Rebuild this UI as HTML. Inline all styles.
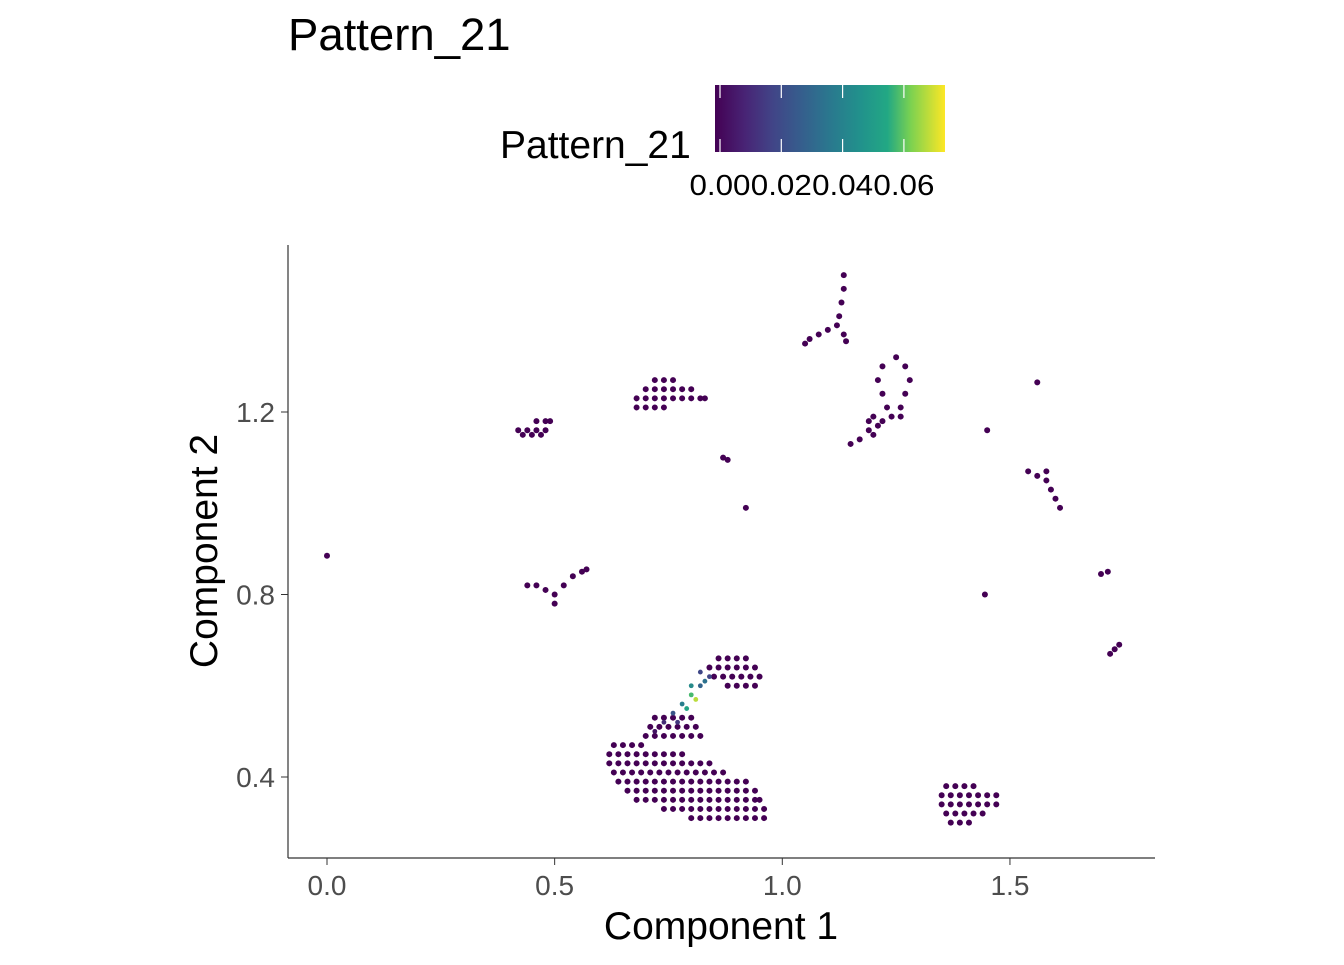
<!DOCTYPE html>
<html><head><meta charset="utf-8"><style>
body{margin:0;background:#fff}
svg{font-family:"Liberation Sans",Arial,sans-serif}
</style></head><body>
<svg id="chart" width="1344" height="960" xmlns="http://www.w3.org/2000/svg">
<defs><linearGradient id="vir" x1="0" x2="1" y1="0" y2="0">
<stop offset="0" stop-color="#440154"/><stop offset="0.13" stop-color="#482475"/><stop offset="0.25" stop-color="#414487"/><stop offset="0.38" stop-color="#355f8d"/><stop offset="0.5" stop-color="#2a788e"/><stop offset="0.63" stop-color="#21918c"/><stop offset="0.75" stop-color="#22a884"/><stop offset="0.85" stop-color="#7ad151"/><stop offset="1" stop-color="#fde725"/></linearGradient></defs>
<text x="288" y="50" font-size="45.5">Pattern_21</text>
<text x="500" y="158" font-size="39">Pattern_21</text>
<rect x="715" y="85" width="230" height="67" fill="url(#vir)"/>
<g id="cbticks"></g>
<g id="points"></g>
<line x1="288" y1="245" x2="288" y2="858" stroke="#333" stroke-width="1.2"/>
<line x1="288" y1="858" x2="1155" y2="858" stroke="#333" stroke-width="1.2"/>
<g id="axes"></g>
<text x="721" y="939" font-size="39" text-anchor="middle">Component 1</text>
<text transform="translate(217,551) rotate(-90)" font-size="39" text-anchor="middle">Component 2</text>
</svg>
<script>
const xTicks=[0.0,0.5,1.0,1.5];
const xTickLabels=["0.0","0.5","1.0","1.5"];
const yTicks=[0.4,0.8,1.2];
const yTickLabels=["0.4","0.8","1.2"];
const cbTicks=[0,0.02,0.04,0.06];
const cbTickLabels=["0.00","0.02","0.04","0.06"];
const cbMax=0.075;
const ptsX=[
0.63,0.65,0.67,0.69,
0.62,0.64,0.66,0.68,0.70,0.72,0.74,0.76,0.78,
0.62,0.64,0.66,0.68,0.70,0.72,0.74,0.76,0.78,0.80,0.82,0.84,
0.63,0.65,0.67,0.69,0.71,0.73,0.75,0.77,0.79,0.81,0.83,0.85,0.87,
0.64,0.66,0.68,0.70,0.72,0.74,0.76,0.78,0.80,0.82,0.84,0.86,0.88,0.90,0.92,
0.66,0.68,0.70,0.72,0.74,0.76,0.78,0.80,0.82,0.84,0.86,0.88,0.90,0.92,0.94,
0.68,0.70,0.72,0.74,0.76,0.78,0.80,0.82,0.84,0.86,0.88,0.90,0.92,0.94,0.95,
0.74,0.76,0.78,0.80,0.82,0.84,0.86,0.88,0.90,0.92,0.94,0.96,
0.80,0.82,0.84,0.86,0.88,0.90,0.92,0.94,0.96,
0.70,0.72,0.74,0.76,0.78,0.80,0.82,0.71,0.73,0.75,0.77,0.79,0.81,0.72,0.74,0.76,0.78,0.80,
0.72,0.74,0.76,0.78,0.80,0.82,0.84,0.79,0.81,0.77,0.83,0.80,0.82,
0.86,0.88,0.90,0.92,0.84,0.86,0.88,0.90,0.92,0.94,0.85,0.87,0.89,0.91,0.93,0.95,0.88,0.90,0.92,0.94,
1.36,1.38,1.40,1.42,1.35,1.37,1.39,1.41,1.43,1.45,1.47,1.35,1.37,1.39,1.41,1.43,1.45,1.47,1.36,1.38,1.40,1.42,1.44,1.37,1.39,1.41,
0.72,0.74,0.76,0.70,0.72,0.74,0.76,0.78,0.80,0.68,0.70,0.72,0.74,0.76,0.78,0.80,0.82,0.83,0.68,0.70,0.72,0.74,
0.46,0.48,0.49,0.42,0.44,0.46,0.48,0.43,0.45,0.47,
0.44,0.46,0.48,0.50,0.50,0.52,0.54,0.56,0.57,
1.135,1.135,1.13,1.125,1.12,1.10,1.08,1.06,1.05,1.135,1.14,
1.17,1.19,1.21,1.20,1.22,1.24,1.26,1.23,1.22,1.21,1.22,1.25,1.27,1.28,1.27,1.26,1.19,1.15,1.20,
1.54,1.56,1.58,1.58,1.59,1.60,1.61,
0.0,0.87,0.88,0.92,1.45,1.56,1.445,1.70,1.715,1.73,1.72,1.74];
const ptsY=[
0.47,0.47,0.47,0.47,
0.45,0.45,0.45,0.45,0.45,0.45,0.45,0.45,0.45,
0.43,0.43,0.43,0.43,0.43,0.43,0.43,0.43,0.43,0.43,0.43,0.43,
0.41,0.41,0.41,0.41,0.41,0.41,0.41,0.41,0.41,0.41,0.41,0.41,0.41,
0.39,0.39,0.39,0.39,0.39,0.39,0.39,0.39,0.39,0.39,0.39,0.39,0.39,0.39,0.39,
0.37,0.37,0.37,0.37,0.37,0.37,0.37,0.37,0.37,0.37,0.37,0.37,0.37,0.37,0.37,
0.35,0.35,0.35,0.35,0.35,0.35,0.35,0.35,0.35,0.35,0.35,0.35,0.35,0.35,0.35,
0.33,0.33,0.33,0.33,0.33,0.33,0.33,0.33,0.33,0.33,0.33,0.33,
0.31,0.31,0.31,0.31,0.31,0.31,0.31,0.31,0.31,
0.49,0.49,0.49,0.49,0.49,0.49,0.49,0.51,0.51,0.51,0.51,0.51,0.51,0.53,0.53,0.53,0.53,0.53,
0.50,0.52,0.54,0.56,0.58,0.60,0.62,0.55,0.57,0.52,0.61,0.60,0.63,
0.66,0.66,0.66,0.66,0.64,0.64,0.64,0.64,0.64,0.64,0.62,0.62,0.62,0.62,0.62,0.62,0.60,0.60,0.60,0.60,
0.38,0.38,0.38,0.38,0.36,0.36,0.36,0.36,0.36,0.36,0.36,0.34,0.34,0.34,0.34,0.34,0.34,0.34,0.32,0.32,0.32,0.32,0.32,0.30,0.30,0.30,
1.27,1.27,1.27,1.25,1.25,1.25,1.25,1.25,1.25,1.23,1.23,1.23,1.23,1.23,1.23,1.23,1.23,1.23,1.21,1.21,1.21,1.21,
1.18,1.18,1.18,1.16,1.16,1.16,1.16,1.15,1.15,1.15,
0.82,0.82,0.81,0.80,0.78,0.82,0.84,0.85,0.855,
1.50,1.47,1.44,1.41,1.39,1.38,1.37,1.36,1.35,1.37,1.355,
1.14,1.16,1.17,1.19,1.18,1.19,1.19,1.21,1.24,1.27,1.30,1.32,1.30,1.27,1.24,1.21,1.18,1.13,1.15,
1.07,1.06,1.07,1.05,1.03,1.01,0.99,
0.885,1.10,1.095,0.99,1.16,1.265,0.80,0.845,0.85,0.68,0.67,0.69];
const ptsVal=ptsX.map(()=>0);
// highlighted cells on the arm
const hiIdx=[122,123,124,125,126,127,128,129,130,131,132,133,134];
const hiVal=[0.005,0.012,0.025,0.04,0.06,0.03,0.02,0.055,0.07,0.015,0.035,0.045,0.02];
hiIdx.forEach((i,k)=>ptsVal[i]=hiVal[k]);

const NS="http://www.w3.org/2000/svg";
const X=v=>327+v*455.3, Y=v=>777-(v-0.4)*456.25;
const CB=v=>720+v/0.02*61.3;
const stops=[[0,[68,1,84]],[0.25,[65,68,135]],[0.5,[42,120,142]],[0.75,[34,168,132]],[0.87,[122,209,81]],[1,[253,231,37]]];
function vir(t){t=Math.max(0,Math.min(1,t));for(let i=1;i<stops.length;i++){if(t<=stops[i][0]){const a=stops[i-1],b=stops[i],f=(t-a[0])/(b[0]-a[0]);return 'rgb('+a[1].map((c,j)=>Math.round(c+(b[1][j]-c)*f)).join(',')+')';}}return 'rgb(253,231,37)';}
const pg=document.getElementById('points');
const order=ptsX.map((_,i)=>i).sort((a,b)=>ptsVal[a]-ptsVal[b]);
order.forEach(i=>{
 const c=document.createElementNS(NS,'circle');
 
 
 c.setAttribute('cx',X(ptsX[i]));c.setAttribute('cy',Y(ptsY[i]));
 c.setAttribute('r',ptsVal[i]>0?2.4:3.0);c.setAttribute('fill',vir(ptsVal[i]/cbMax));
 pg.appendChild(c);
});
const ax=document.getElementById('axes');
xTicks.forEach((v,i)=>{
 const l=document.createElementNS(NS,'line');
 
 
 l.setAttribute('x1',X(v));l.setAttribute('x2',X(v));l.setAttribute('y1',858);l.setAttribute('y2',865);l.setAttribute('stroke','#333');
 ax.appendChild(l);
 const t=document.createElementNS(NS,'text');
 
 
 t.setAttribute('x',X(v));t.setAttribute('y',895);t.setAttribute('font-size','28');t.setAttribute('fill','#4d4d4d');t.setAttribute('text-anchor','middle');
 t.textContent=xTickLabels[i];ax.appendChild(t);
});
yTicks.forEach((v,i)=>{
 const l=document.createElementNS(NS,'line');
 
 
 l.setAttribute('x1',281);l.setAttribute('x2',288);l.setAttribute('y1',Y(v));l.setAttribute('y2',Y(v));l.setAttribute('stroke','#333');
 ax.appendChild(l);
 const t=document.createElementNS(NS,'text');
 
 
 t.setAttribute('x',275);t.setAttribute('y',Y(v)+10);t.setAttribute('font-size','28');t.setAttribute('fill','#4d4d4d');t.setAttribute('text-anchor','end');
 t.textContent=yTickLabels[i];ax.appendChild(t);
});
const cg=document.getElementById('cbticks');
cbTicks.forEach((v,i)=>{
 [[85,98],[139,152]].forEach(p=>{
  const l=document.createElementNS(NS,'line');
  
  
  l.setAttribute('x1',CB(v));l.setAttribute('x2',CB(v));l.setAttribute('y1',p[0]);l.setAttribute('y2',p[1]);l.setAttribute('stroke','#fff');l.setAttribute('stroke-width','1.2');
  cg.appendChild(l);
 });
 const t=document.createElementNS(NS,'text');
 
 
 t.setAttribute('x',CB(v)-30.5);t.setAttribute('y',195);t.setAttribute('font-size','29');
 t.setAttribute('textLength','61');t.setAttribute('lengthAdjust','spacingAndGlyphs');
 t.textContent=cbTickLabels[i];cg.appendChild(t);
});
</script>
</body></html>
